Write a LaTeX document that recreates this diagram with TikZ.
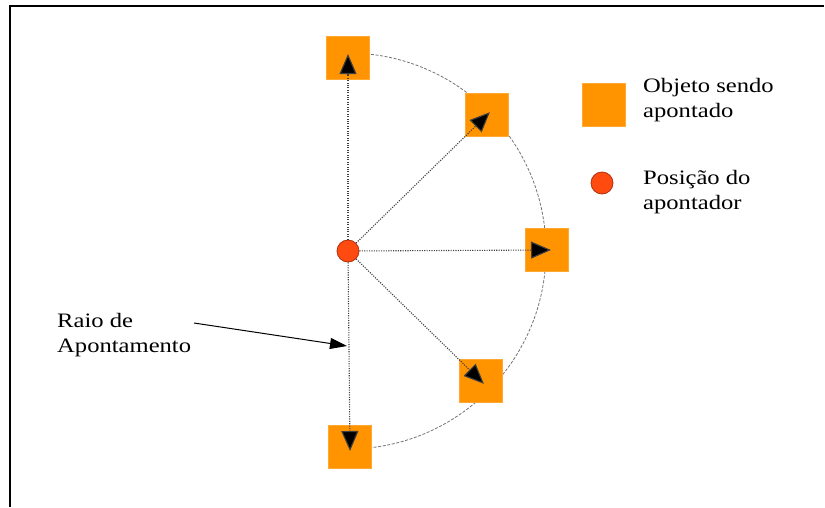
\documentclass[tikz,border=0pt]{standalone}
\usepackage{fontspec}
\usepackage{graphicx}
\setmainfont{Liberation Serif}
\newcommand{\sx}[1]{\scalebox{1.2}[1]{#1}}
\usetikzlibrary{arrows.meta}
\definecolor{obj}{HTML}{FF9400}
\definecolor{ptr}{HTML}{FF4A10}
\definecolor{ptrline}{HTML}{B03010}
\tikzset{
  objbox/.style={rectangle, fill=obj, draw=obj!80!white, line width=0.6pt, minimum size=43pt, inner sep=0pt},
  pointer/.style={circle, fill=ptr, draw=ptrline, line width=0.8pt, minimum size=22pt, inner sep=0pt},
  ray/.style={draw=black!75, line width=1.1pt, dash pattern=on 1.1pt off 1.3pt, -{Triangle[length=20pt,width=17pt,fill=black]}, shorten >=-4pt},
  orbit/.style={draw=black!55, line width=0.8pt, dash pattern=on 3pt off 1.6pt},
  lbl/.style={font=\fontsize{20.5}{24.5}\selectfont, align=left, anchor=base west, inner sep=0pt},
}
\begin{document}
\begin{tikzpicture}[x=1pt,y=-1pt]
\useasboundingbox (0,0) rectangle (825,507);
% frame
\draw[line width=2.2pt] (10,507) -- (10,6) -- (824,6);
% orbit arc
\draw[orbit] (348,53) arc[start angle=-90, end angle=90, radius=198];
% pointer and objects
\node[pointer] (c) at (348,251) {};
\node[objbox] (s1) at (348,58) {};
\node[objbox] (s2) at (487,115) {};
\node[objbox] (s3) at (547,250) {};
\node[objbox] (s4) at (481,381) {};
\node[objbox] (s5) at (350,447) {};
% rays
\draw[ray] (c) -- (s1.center);
\draw[ray] (c) -- (s2.center);
\draw[ray] (c) -- (s3.center);
\draw[ray] (c) -- (s4.center);
\draw[ray] (c) -- (s5.center);
% legend
\node[objbox] (ls) at (604,105) {};
\node[pointer] (lp) at (602,183) {};
\node[lbl] (lt1) at (643,117) {\sx{Objeto sendo}\\\sx{apontado}};
\node[lbl] (lt2) at (643,209) {\sx{Posição do}\\\sx{apontador}};
% radius label
\node[lbl] (rl) at (57,352) {\sx{Raio de}\\\sx{Apontamento}};
\coordinate (rs) at (194,323);
\coordinate (re) at (347,346);
\draw[line width=1pt, -{Triangle[length=17pt,width=11pt]}] (rs) -- (re);
\end{tikzpicture}
\end{document}
